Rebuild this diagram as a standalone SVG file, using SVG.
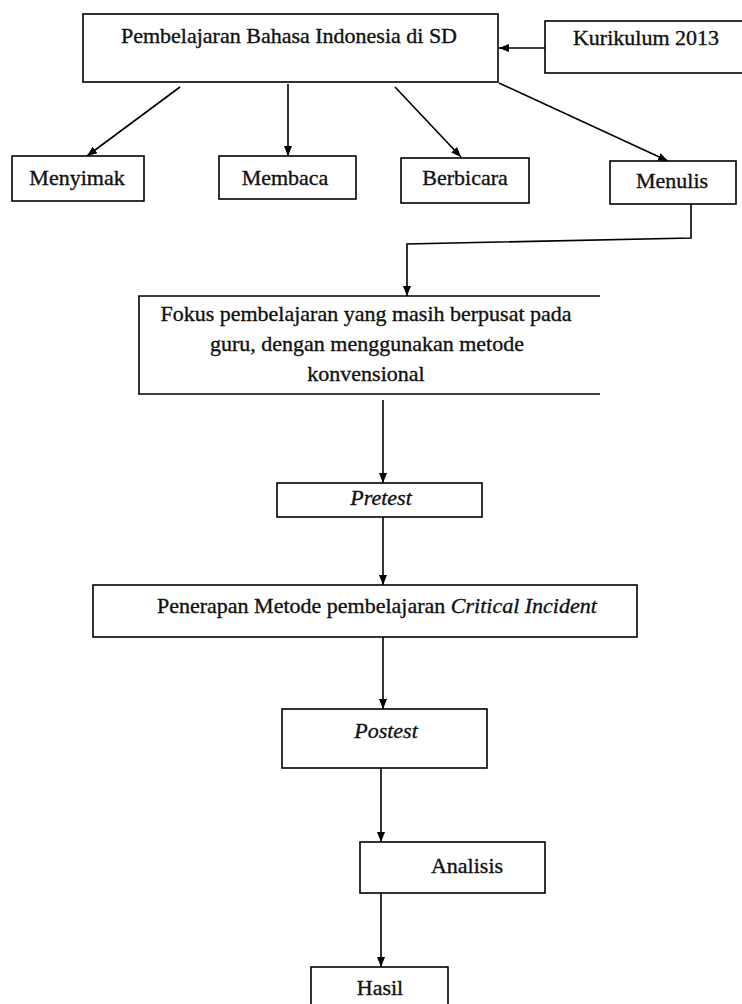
<svg xmlns="http://www.w3.org/2000/svg" width="742" height="1004" viewBox="0 0 742 1004">
<style>
.box{fill:#fff;stroke:#000;stroke-width:1.6}
.t{font-family:"Liberation Serif","DejaVu Serif","Times New Roman",serif;font-size:22px;fill:#111;stroke:#111;stroke-width:0.35}
.c{text-anchor:middle}
.i{font-style:italic}
.con{fill:none;stroke:#000;stroke-width:1.6}
</style>
<defs>
<marker id="ah" markerUnits="userSpaceOnUse" markerWidth="10" markerHeight="10" viewBox="0 0 10 10" refX="10" refY="5" orient="auto">
<path d="M0,1 L10,5 L0,9 Z" fill="#000"/>
</marker>
</defs>
<rect x="0" y="0" width="742" height="1004" fill="#fff"/>

<g id="connectors">
<line class="con" x1="545" y1="48" x2="499" y2="48" marker-end="url(#ah)"/>
<line class="con" x1="180" y1="87" x2="87" y2="156" marker-end="url(#ah)"/>
<line class="con" x1="288" y1="84" x2="288" y2="156" marker-end="url(#ah)"/>
<line class="con" x1="395" y1="87" x2="461" y2="157" marker-end="url(#ah)"/>
<line class="con" x1="499" y1="83" x2="668" y2="161" marker-end="url(#ah)"/>
<polyline class="con" points="691,204 691,238 407,244 407,296" marker-end="url(#ah)"/>
<line class="con" x1="383" y1="400" x2="383" y2="483" marker-end="url(#ah)"/>
<line class="con" x1="383" y1="517" x2="383" y2="585" marker-end="url(#ah)"/>
<line class="con" x1="383" y1="633" x2="383" y2="709" marker-end="url(#ah)"/>
<line class="con" x1="381" y1="765" x2="381" y2="842" marker-end="url(#ah)"/>
<line class="con" x1="381" y1="893" x2="381" y2="967" marker-end="url(#ah)"/>
</g>

<g id="node-pembelajaran">
<rect class="box" x="83" y="14" width="415" height="68"/>
<text class="t c" x="289" y="43">Pembelajaran Bahasa Indonesia di SD</text>
</g>
<g id="node-kurikulum">
<rect class="box" x="545" y="21" width="205" height="52"/>
<text class="t c" x="646" y="45">Kurikulum 2013</text>
</g>
<g id="node-menyimak">
<rect class="box" x="12" y="156" width="132" height="45"/>
<text class="t c" x="77" y="185">Menyimak</text>
</g>
<g id="node-membaca">
<rect class="box" x="219" y="156" width="137" height="43"/>
<text class="t c" x="285" y="185">Membaca</text>
</g>
<g id="node-berbicara">
<rect class="box" x="401" y="158" width="128" height="45"/>
<text class="t c" x="465" y="185">Berbicara</text>
</g>
<g id="node-menulis">
<rect class="box" x="610" y="161" width="126" height="43"/>
<text class="t c" x="672" y="188">Menulis</text>
</g>
<g id="node-fokus">
<path class="box" d="M600,296 H139 V394 H600"/>
<text class="t c" x="366" y="321">Fokus pembelajaran yang masih berpusat pada</text>
<text class="t c" x="367" y="351">guru, dengan menggunakan metode</text>
<text class="t c" x="366" y="381">konvensional</text>
</g>
<g id="node-pretest">
<rect class="box" x="277" y="483" width="205" height="34"/>
<text class="t c i" x="381" y="505">Pretest</text>
</g>
<g id="node-penerapan">
<rect class="box" x="93" y="585" width="544" height="52"/>
<text class="t" x="157" y="613">Penerapan Metode pembelajaran <tspan class="i">Critical Incident</tspan></text>
</g>
<g id="node-postest">
<rect class="box" x="282" y="709" width="205" height="59"/>
<text class="t c i" x="386" y="738">Postest</text>
</g>
<g id="node-analisis">
<rect class="box" x="360" y="842" width="185" height="51"/>
<text class="t c" x="467" y="873">Analisis</text>
</g>
<g id="node-hasil">
<rect class="box" x="311" y="967" width="137" height="45"/>
<text class="t c" x="380" y="995">Hasil</text>
</g>
</svg>
